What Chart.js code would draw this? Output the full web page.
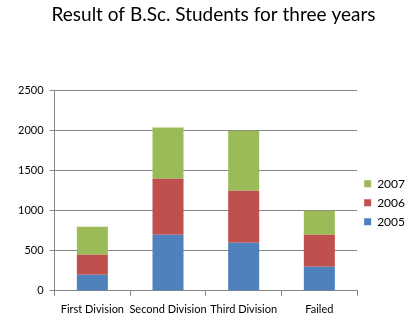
<!DOCTYPE html>
<html lang="en">
<head>
  <meta charset="UTF-8">
  <title>Result of B.Sc. Students</title>
  <script src="https://cdn.jsdelivr.net/npm/chart.js@4"></script>
  <style>
    html, body { margin: 0; padding: 0; background: #fff; }
    #wrap { width: 419px; height: 329px; }
  </style>
</head>
<body>
  <div id="wrap"><canvas id="chart"></canvas></div>
  <script>
    const categories = ['First Division', 'Second Division', 'Third Division', 'Failed'];
    const years = ['2005', '2006', '2007'];
    const values2005 = [200, 700, 600, 300];
    const values2006 = [250, 700, 650, 400];
    const values2007 = [350, 640, 750, 300];
    const colors = ['#4F81BD', '#C0504D', '#9BBB59'];
    const yTicks = [0, 500, 1000, 1500, 2000, 2500];

    const font = 'Lato, "Open Sans", sans-serif';
    const grey = '#868686';

    new Chart(document.getElementById('chart'), {
      type: 'bar',
      data: {
        labels: categories,
        datasets: [values2005, values2006, values2007].map((vals, i) => ({
          label: years[i],
          data: vals,
          backgroundColor: colors[i],
          categoryPercentage: 1,
          barPercentage: 0.41
        }))
      },
      options: {
        responsive: true,
        maintainAspectRatio: false,
        animation: false,
        layout: { padding: { left: 12, right: 4, bottom: 6, top: 0 } },
        plugins: {
          title: {
            display: true,
            text: 'Result of B.Sc. Students for three years',
            color: '#000',
            font: { family: font, size: 19, weight: 'normal' },
            padding: { top: 3, bottom: 65 }
          },
          legend: {
            position: 'right',
            reverse: true,
            fullSize: false,
            title: { display: true, text: '', font: { size: 10 }, padding: { top: 12, bottom: 0 } },
            labels: {
              boxWidth: 7,
              boxHeight: 7,
              padding: 7,
              color: '#000',
              font: { family: font, size: 12 }
            }
          },
          tooltip: { enabled: false }
        },
        scales: {
          x: {
            stacked: true,
            grid: { drawOnChartArea: false, tickLength: 5, color: grey },
            border: { color: grey },
            ticks: { color: '#000', font: { family: font, size: 11 }, padding: 7, maxRotation: 0, autoSkip: false }
          },
          y: {
            stacked: true,
            min: 0,
            max: 2500,
            afterBuildTicks: axis => { axis.ticks = yTicks.map(v => ({ value: v })); },
            grid: { color: grey, tickLength: 5 },
            border: { color: grey },
            ticks: { color: '#000', font: { family: font, size: 11 }, padding: 6, callback: v => String(v) }
          }
        }
      }
    });
  </script>
</body>
</html>
